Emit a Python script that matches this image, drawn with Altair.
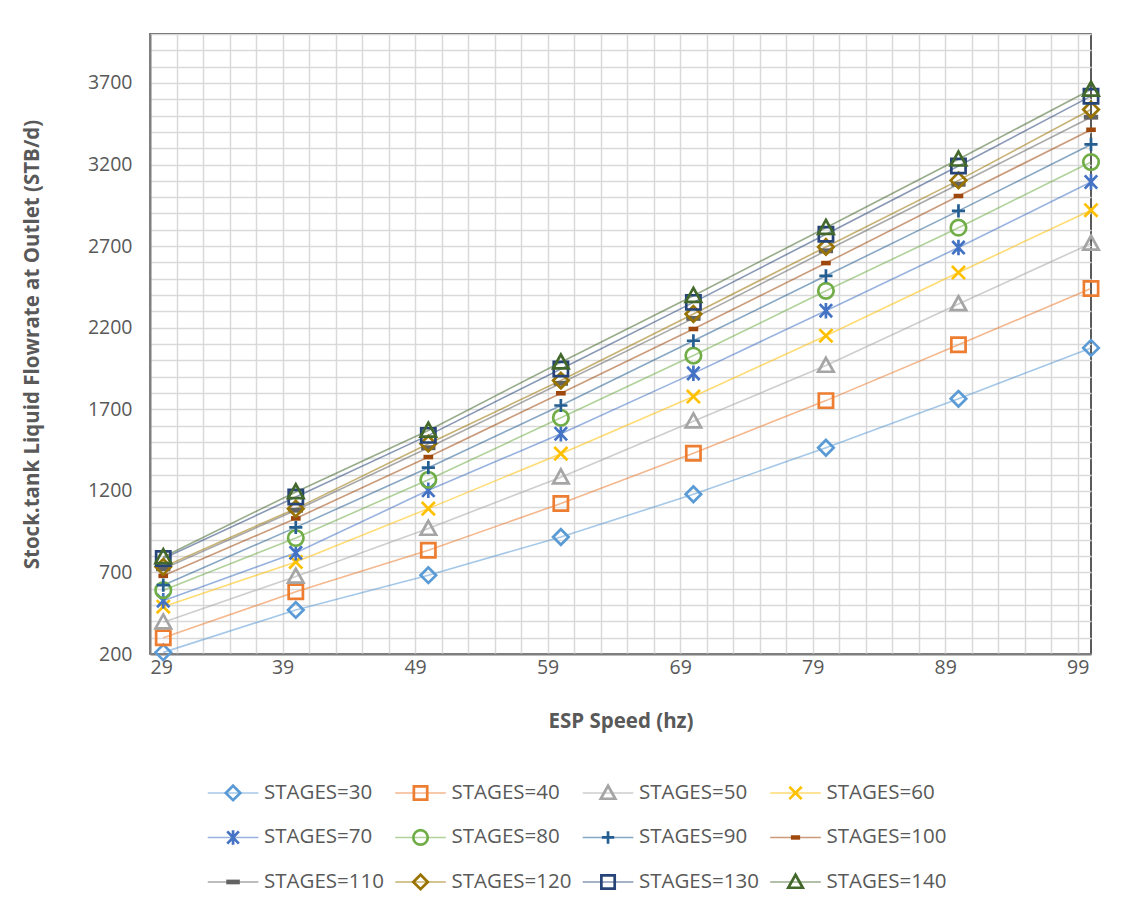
import altair as alt
import pandas as pd

# ESP speed (hz) at which each case was run
speed = [30, 40, 50, 60, 70, 80, 90, 100]

# Stock-tank liquid flowrate at outlet (STB/d), one list per number of stages
stages_30 = [210, 470, 683, 917, 1179, 1464, 1764, 2076]
stages_40 = [300, 581, 836, 1122, 1431, 1753, 2096, 2440]
stages_50 = [395, 675, 969, 1284, 1627, 1968, 2345, 2716]
stages_60 = [490, 764, 1091, 1428, 1778, 2151, 2538, 2920]
stages_70 = [527, 820, 1203, 1550, 1920, 2304, 2691, 3093]
stages_80 = [591, 911, 1268, 1648, 2029, 2426, 2813, 3215]
stages_90 = [622, 976, 1342, 1723, 2120, 2518, 2916, 3323]
stages_100 = [679, 1031, 1407, 1798, 2192, 2596, 3007, 3413]
stages_110 = [722, 1081, 1464, 1859, 2257, 2671, 3079, 3490]
stages_120 = [734, 1091, 1489, 1876, 2284, 2695, 3103, 3537]
stages_130 = [785, 1162, 1540, 1947, 2355, 2773, 3191, 3619]
stages_140 = [795, 1193, 1570, 1988, 2396, 2813, 3232, 3660]

series_names = ["STAGES=30", "STAGES=40", "STAGES=50", "STAGES=60",
                "STAGES=70", "STAGES=80", "STAGES=90", "STAGES=100",
                "STAGES=110", "STAGES=120", "STAGES=130", "STAGES=140"]
series_values = [stages_30, stages_40, stages_50, stages_60, stages_70, stages_80,
                 stages_90, stages_100, stages_110, stages_120, stages_130, stages_140]

colors = ["#5B9BD5", "#ED7D31", "#A5A5A5", "#FFC000", "#4472C4", "#70AD47",
          "#255E91", "#9E480E", "#636363", "#997300", "#264478", "#43682B"]

DIAMOND = "M-1,0L0,-1L1,0L0,1Z"
SQUARE = "M-0.92,-0.92L0.92,-0.92L0.92,0.92L-0.92,0.92Z"
TRIANGLE = "M0,-1L1,0.8L-1,0.8Z"
XMARK = "M-0.85,-0.85L0.85,0.85M-0.85,0.85L0.85,-0.85"
ASTER = "M-0.8,-0.85L0.8,0.85M-0.8,0.85L0.8,-0.85M0,-1L0,1"
CIRCLE = "circle"
PLUS = "M-0.85,0L0.85,0M0,-0.85L0,0.85"
DASH_S = "M-0.45,-0.12L0.45,-0.12L0.45,0.12L-0.45,0.12Z"
DASH_L = "M-0.75,-0.14L0.75,-0.14L0.75,0.14L-0.75,0.14Z"

shapes = [DIAMOND, SQUARE, TRIANGLE, XMARK, ASTER, CIRCLE,
          PLUS, DASH_S, DASH_L, DIAMOND, SQUARE, TRIANGLE]
fills = ["transparent"] * 7 + [colors[7], colors[8]] + ["transparent"] * 3

x_grid = list(range(29, 100, 2))
y_grid = list(range(200, 4001, 100))

rows = []
for name, vals in zip(series_names, series_values):
    for s, v in zip(speed, vals):
        rows.append({"series": name, "speed": s, "flow": v})
df = pd.DataFrame(rows)

leg = pd.DataFrame({"series": series_names})
leg["col"] = [i % 4 for i in range(len(series_names))]
leg["row"] = [i // 4 for i in range(len(series_names))]
leg["x1"] = leg["col"] - 0.135
leg["x2"] = leg["col"] + 0.135
leg["tx"] = leg["col"] + 0.165

stroke_scale = alt.Scale(domain=series_names, range=colors)
shape_scale = alt.Scale(domain=series_names, range=shapes)
fill_scale = alt.Scale(domain=series_names, range=fills)

FONT = "Open Sans"
TXT = "#595959"

x_enc = alt.X("speed:Q",
              scale=alt.Scale(domain=[29, 100], nice=False, zero=False),
              axis=alt.Axis(values=x_grid,
                            labelExpr="(datum.value - 29) % 10 == 0 ? datum.label : ''",
                            title="ESP Speed (hz)", ticks=False, grid=True,
                            gridColor="#D9D9D9", gridWidth=1.5,
                            domainColor="#808080", domainWidth=2,
                            labelFontSize=19.5, labelColor=TXT, labelPadding=4,
                            titleFontSize=20.5, titleFontWeight="bold", titleColor=TXT,
                            titleY=67, titleBaseline="middle"))
y_enc = alt.Y("flow:Q",
              scale=alt.Scale(domain=[200, 4000], nice=False, zero=False),
              axis=alt.Axis(values=y_grid,
                            labelExpr="(datum.value - 200) % 500 == 0 ? datum.label : ''",
                            format="d",
                            title="Stock.tank Liquid Flowrate at Outlet (STB/d)",
                            ticks=False, grid=True,
                            gridColor="#D9D9D9", gridWidth=1.5,
                            domainColor="#808080", domainWidth=2,
                            labelFontSize=19.5, labelColor=TXT, labelPadding=18,
                            titleFontSize=20.5, titleFontWeight="bold", titleColor=TXT,
                            titleX=-118, titleBaseline="middle"))

lines = alt.Chart(df).mark_line(strokeWidth=1.6, opacity=0.55).encode(
    x=x_enc, y=y_enc,
    stroke=alt.Stroke("series:N", scale=stroke_scale, legend=None, sort=series_names),
)
points = alt.Chart(df).mark_point(size=240, strokeWidth=2.7, opacity=1).encode(
    x=x_enc, y=y_enc,
    stroke=alt.Stroke("series:N", scale=stroke_scale, legend=None, sort=series_names),
    fill=alt.Fill("series:N", scale=fill_scale, legend=None, sort=series_names),
    shape=alt.Shape("series:N", scale=shape_scale, legend=None, sort=series_names),
)
main = alt.layer(lines, points)

lx = alt.Scale(domain=[-0.443, 4.576], nice=False, zero=False)
ly = alt.Scale(domain=[-17.056, -3.123], nice=False, zero=False, reverse=True)

leg_rule = alt.Chart(leg).mark_rule(strokeWidth=1.6, opacity=0.55).encode(
    x=alt.X("x1:Q", scale=lx, axis=None), x2="x2:Q",
    y=alt.Y("row:Q", scale=ly, axis=None),
    stroke=alt.Stroke("series:N", scale=stroke_scale, legend=None),
)
leg_pts = alt.Chart(leg).mark_point(size=210, strokeWidth=2.7, opacity=1).encode(
    x=alt.X("col:Q", scale=lx, axis=None),
    y=alt.Y("row:Q", scale=ly, axis=None),
    stroke=alt.Stroke("series:N", scale=stroke_scale, legend=None),
    fill=alt.Fill("series:N", scale=fill_scale, legend=None),
    shape=alt.Shape("series:N", scale=shape_scale, legend=None),
)
leg_txt = alt.Chart(leg).mark_text(align="left", baseline="middle", fontSize=20.5,
                                   color=TXT, font=FONT).encode(
    x=alt.X("tx:Q", scale=lx, axis=None),
    y=alt.Y("row:Q", scale=ly, axis=None),
    text="series:N",
)
legend = alt.layer(leg_rule, leg_pts, leg_txt)

chart = alt.layer(main, legend).resolve_scale(
    x="independent", y="independent"
).properties(
    width=941, height=620,
    padding={"left": 14, "top": 26, "right": 10, "bottom": 5},
).configure(font=FONT).configure_view(stroke="#262626", strokeWidth=1.5)

chart.save("out.html", embed_options={"renderer": "svg", "actions": False})
